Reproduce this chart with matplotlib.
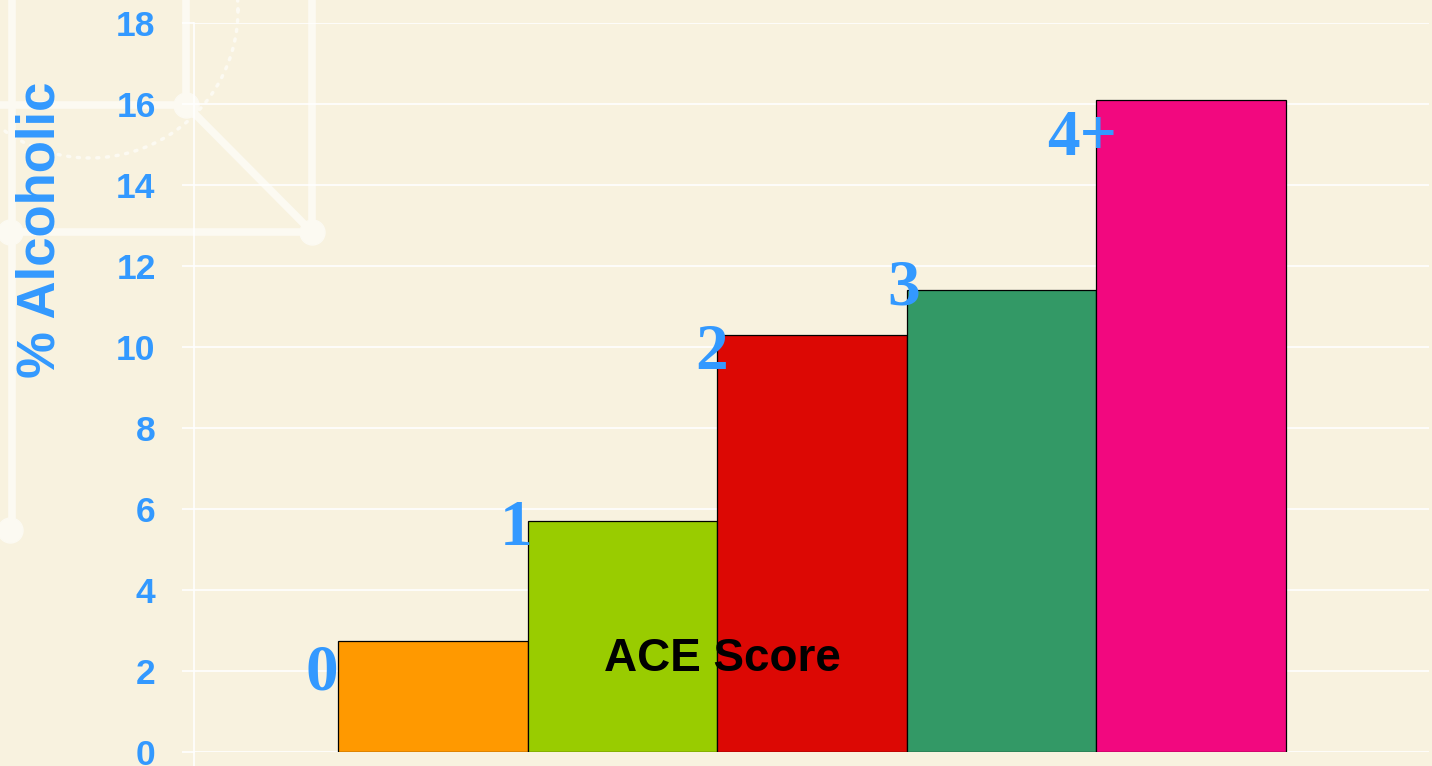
import numpy as np
import matplotlib
matplotlib.use("Agg")
import matplotlib.pyplot as plt
from matplotlib.lines import Line2D

# data
categories = ["0", "1", "2", "3", "4+"]
pct_alcoholic = [2.75, 5.69, 10.30, 11.41, 16.10]
bar_colors = ["#FF9900", "#99CC00", "#DC0804", "#339966", "#F2087F"]
yticks = [0, 2, 4, 6, 8, 10, 12, 14, 16, 18]

# label offsets from the bar's top-left corner (points)
lab_dx = [-12, -8, -4, -2, -10]
lab_dy = [-35, -17, -25, -11, -40]

BG = "#F8F2DF"
DECO = "#FCFAF2"
BLUE = "#3399FF"

W, H = 1432, 766
fig = plt.figure(figsize=(W / 100, H / 100), dpi=100, facecolor=BG)

# background decoration (pixel coords)
bg = fig.add_axes([0, 0, 1, 1], zorder=0)
bg.set_xlim(0, W)
bg.set_ylim(H, 0)
bg.axis("off")
bg.set_facecolor(BG)
kw = dict(color=DECO, lw=5.5, solid_capstyle="round", zorder=1)
bg.plot([12, 12], [0, 530], **kw)
bg.plot([186, 186], [0, 105], **kw)
bg.plot([312, 312], [0, 232], **kw)
bg.plot([0, 186], [105, 105], **kw)
bg.plot([0, 312], [232, 232], **kw)
bg.plot([186, 312], [105, 232], **kw)
bg.plot([10, 186, 312, 10], [530, 105, 232, 232], ls="none", marker="o",
        ms=18, color=DECO, zorder=2)
th = np.linspace(0, 2 * np.pi, 400)
bg.plot(90 + 148 * np.cos(th), 10 + 148 * np.sin(th), color=DECO, lw=2.5,
        ls=(0, (0.6, 2.2)), dash_capstyle="round", zorder=1)

ax = fig.add_axes([194 / W, 14 / H, 1235 / W, 729.5 / H], zorder=1)
ax.set_facecolor("none")

x = np.arange(len(categories))
bars = ax.bar(x, pct_alcoholic, width=1.0, color=bar_colors,
              edgecolor="black", linewidth=0.9, zorder=3)

for i, (b, lab) in enumerate(zip(bars, categories)):
    ax.annotate(lab, (b.get_x(), b.get_height()),
                xytext=(lab_dx[i], lab_dy[i]), textcoords="offset points",
                ha="center", va="baseline", color=BLUE,
                fontsize=47, fontweight="bold", family="Liberation Serif",
                zorder=5, annotation_clip=False)

ax.set_xlim(-1.2595, 5.254)
ax.set_ylim(0, 18)
ax.set_yticks(yticks)
ax.set_xticks([])
ax.grid(axis="y", color="white", lw=1.2, zorder=0)
ax.set_axisbelow(True)

for s in ["top", "right", "bottom"]:
    ax.spines[s].set_visible(False)
ax.spines["left"].set_color("white")
ax.spines["left"].set_linewidth(1.2)
ax.add_line(Line2D([0, 0], [-0.03, 0], transform=ax.transAxes,
                   color="white", lw=1.2, clip_on=False))

ax.tick_params(axis="y", colors="white", length=8.6, width=1.2,
               pad=19, labelcolor=BLUE, labelsize=25.5)
for t in ax.get_yticklabels():
    t.set_fontweight("bold")
    t.set_family("Liberation Sans")

ax.set_ylabel("% Alcoholic", color=BLUE, fontsize=38, fontweight="bold",
              family="Liberation Sans", va="center")
ax.yaxis.set_label_coords(-0.1246, 0.7156)

ax.text(0.428, 0.111, "ACE Score", transform=ax.transAxes, ha="center",
        va="baseline", fontsize=33, fontweight="bold",
        family="Liberation Sans", color="black", zorder=6)

fig.savefig("out.png", dpi=100, facecolor=BG)
